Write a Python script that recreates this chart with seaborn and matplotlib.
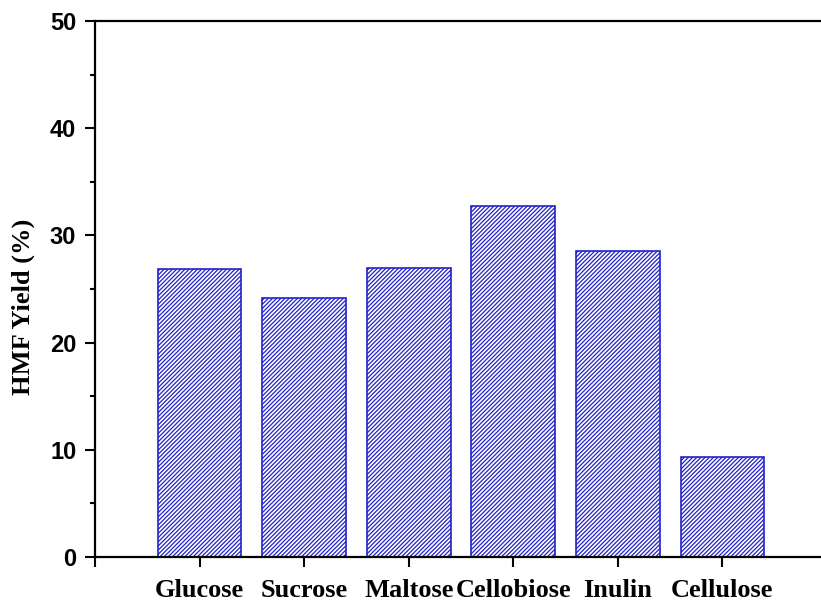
import matplotlib
matplotlib.use("Agg")
import matplotlib.pyplot as plt
from matplotlib.ticker import MultipleLocator
import seaborn as sns
import pandas as pd

# HMF yield obtained from each carbohydrate substrate
substrates = ["Glucose", "Sucrose", "Maltose", "Cellobiose", "Inulin", "Cellulose"]
positions = [1, 2, 3, 4, 5, 6]
hmf_yield = [26.9, 24.2, 27.0, 32.7, 28.5, 9.3]

df = pd.DataFrame({"pos": positions, "substrate": substrates, "yield": hmf_yield})

sns.set_theme(style="white")
plt.rcParams.update({
    "hatch.linewidth": 0.9,
    "text.color": "black",
    "axes.labelcolor": "black",
    "xtick.color": "black",
    "ytick.color": "black",
})

fig = plt.figure(figsize=(8.21, 6.10), dpi=100)
ax = fig.add_axes([95 / 821, 53 / 610, 732 / 821, 536 / 610])

sns.barplot(data=df, x="pos", y="yield", native_scale=True, width=0.8,
            color="white", edgecolor="#2222c8", linewidth=1.2,
            hatch="////////", ax=ax, errorbar=None)

ax.set_xlim(0, 7)
ax.set_ylim(0, 50)
ax.set_xticks(list(range(0, 8)))
ax.set_xticklabels([""] + substrates + [""],
                   fontfamily="Liberation Serif", fontweight="bold", fontsize=19)
ax.yaxis.set_major_locator(MultipleLocator(10))
ax.yaxis.set_minor_locator(MultipleLocator(5))
for lbl in ax.get_yticklabels():
    lbl.set_fontfamily("Liberation Sans")
    lbl.set_fontweight("bold")
    lbl.set_fontsize(17)

ax.tick_params(axis="both", which="major", direction="out", length=7.5,
               width=1.5, color="black", bottom=True, left=True)
ax.tick_params(axis="y", which="minor", direction="out", length=3.8,
               width=1.5, color="black", left=True)
ax.tick_params(axis="y", which="major", pad=6)
ax.tick_params(axis="x", which="major", pad=8)

ax.set_xlabel("")
ax.set_ylabel("HMF Yield (%)", fontfamily="Liberation Serif",
              fontweight="bold", fontsize=19)
ax.yaxis.set_label_coords(-0.082, 0.466)

for side in ["left", "top", "bottom", "right"]:
    ax.spines[side].set_visible(True)
    ax.spines[side].set_color("black")
    ax.spines[side].set_linewidth(1.6)

fig.savefig("out.png", dpi=100, facecolor="white")
